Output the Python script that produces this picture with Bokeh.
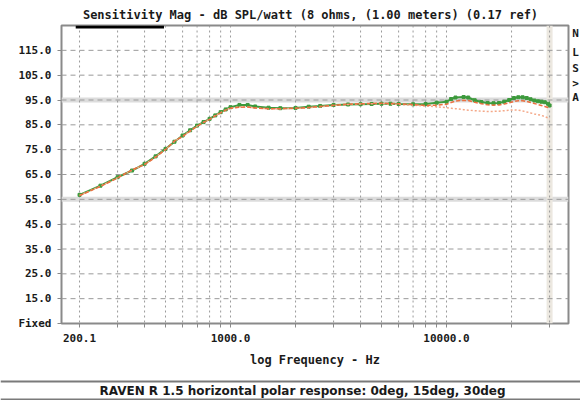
from bokeh.plotting import figure
from bokeh.models import FixedTicker, Span, Label, BoxAnnotation, Range1d
from bokeh.layouts import column, row
from bokeh.embed import file_html
from bokeh.resources import INLINE

# ---------------- data ----------------
freq = [200, 250, 300, 350, 400, 450, 500, 550, 600, 650,
        700, 750, 800, 850, 900, 950, 1000, 1100, 1200, 1300,
        1500, 1700, 2000, 2300, 2600, 3000, 3500, 4000, 4500, 5000,
        5500, 6000, 7000, 8000, 9000, 10000, 10500, 11000, 12000, 12600,
        13500, 14500, 15500, 16500, 17500, 18500, 19500, 20500, 21500, 22500,
        23500, 24500, 25500, 26500, 27500, 28500, 29500, 30000]

spl_0deg = [56.8, 60.5, 63.9, 66.6, 69.3, 72.3, 75.3, 78.2, 80.7, 82.8,
            84.7, 86.1, 87.4, 88.8, 90.1, 91.2, 92.1, 93.0, 93.0, 92.4,
            91.9, 91.7, 91.8, 92.3, 92.6, 93.0, 93.2, 93.3, 93.4, 93.5,
            93.5, 93.4, 93.3, 93.4, 93.9, 94.3, 95.4, 96.0, 96.2, 96.0,
            94.9, 94.2, 93.8, 93.7, 93.8, 94.3, 95.0, 95.8, 96.1, 96.1,
            95.8, 95.3, 94.8, 94.5, 94.3, 94.1, 93.5, 92.8]

spl_15deg = [56.5, 60.2, 63.6, 66.9, 69.0, 72.0, 75.0, 78.5, 80.3, 82.5,
             84.4, 86.0, 87.2, 88.6, 89.8, 90.9, 91.7, 92.1, 92.2, 91.8,
             91.5, 91.5, 91.7, 92.0, 92.4, 92.9, 93.3, 93.5, 93.6, 93.7,
             93.6, 93.5, 93.2, 92.8, 92.9, 93.3, 94.0, 94.6, 94.9, 94.8,
             94.1, 93.5, 93.1, 92.9, 93.0, 93.4, 93.9, 94.4, 94.7, 94.7,
             94.4, 94.0, 93.6, 93.2, 92.8, 92.4, 92.0, 91.5]

spl_30deg = [56.6, 60.3, 63.7, 66.7, 69.1, 72.1, 75.1, 78.3, 80.4, 82.6,
             84.5, 86.0, 87.3, 88.7, 89.9, 91.0, 91.8, 92.2, 92.2, 91.8,
             91.5, 91.5, 91.6, 91.9, 92.3, 92.8, 93.2, 93.4, 93.5, 93.5,
             93.4, 93.2, 92.9, 92.6, 92.3, 91.9, 91.7, 91.5, 91.1, 90.9,
             90.7, 90.5, 90.4, 90.4, 90.5, 90.7, 90.9, 91.0, 90.9, 90.6,
             90.2, 89.8, 89.4, 89.1, 88.8, 88.3, 87.8, 87.3]

y_ticks = [5, 15, 25, 35, 45, 55, 65, 75, 85, 95, 105, 115]
y_tick_labels = ["Fixed", "15.0", "25.0", "35.0", "45.0", "55.0", "65.0",
                 "75.0", "85.0", "95.0", "105.0", "115.0"]
x_grid = [200, 300, 400, 500, 600, 700, 800, 900, 1000,
          2000, 3000, 4000, 5000, 6000, 7000, 8000, 9000, 10000,
          20000, 30000]
x_tick_labels = {200: "200.1", 1000: "1000.0", 10000: "10000.0"}
band_levels = [95, 55]
side_letters = ["N", "L", "S", ">", "A"]
side_letter_y = [121.8, 114.1, 107.7, 101.6, 96.0]

title_text = "Sensitivity Mag - dB SPL/watt (8 ohms, (1.00 meters) (0.17 ref)"
x_label = "log Frequency - Hz"
caption_text = "RAVEN R 1.5 horizontal polar response: 0deg, 15deg, 30deg"

MONO = "DejaVu Sans Mono"
TXT = "#1a1a1a"
FRAME = "#8a8a8a"


def strip(width, height, **kw):
    f = figure(width=width, height=height, output_backend="svg",
               toolbar_location=None, x_axis_location=None,
               y_axis_location=None, **kw)
    f.grid.grid_line_color = None
    f.outline_line_color = None
    f.background_fill_color = "white"
    f.border_fill_color = "white"
    return f


# ---------------- title strip ----------------
top = strip(580, 23, x_range=Range1d(0, 580), y_range=Range1d(0, 23), min_border=0)
top.add_layout(Label(x=310, y=9, text=title_text, text_align="center",
                     text_baseline="middle", text_font=MONO, text_font_style="bold",
                     text_font_size="12px", text_color=TXT))

# ---------------- main figure ----------------
yr = Range1d(5, 125)
p = figure(width=570, height=353, x_axis_type="log",
           x_range=Range1d(165, 36700), y_range=yr,
           output_backend="svg", toolbar_location=None,
           min_border_left=61, min_border_right=2,
           min_border_top=2, min_border_bottom=53)
p.background_fill_color = "white"
p.border_fill_color = "white"
p.outline_line_color = FRAME
p.outline_line_width = 2
p.xgrid.grid_line_color = None
p.ygrid.grid_line_color = None

for lv in band_levels:
    p.add_layout(Span(location=lv, dimension="width", line_color="#dcdcdc",
                      line_width=5, level="underlay"))
p.add_layout(Span(location=x_grid[-1], dimension="height", line_color="#ece8e0",
                  line_width=6, level="underlay"))
for t in y_ticks[1:]:
    p.add_layout(Span(location=t, dimension="width", line_color="#9a9a9a",
                      line_width=1, line_dash="5 4", level="underlay"))
for t in x_grid:
    p.add_layout(Span(location=t, dimension="height", line_color="#9a9a9a",
                      line_width=1, line_dash="2 3", level="underlay"))

p.line(freq, spl_0deg, line_color="#3d9a3d", line_width=2)
p.scatter(freq, spl_0deg, marker="square", size=3, color="#3d9a3d")
p.line(freq, spl_30deg, line_color="#f4a888", line_width=1.5, line_dash="2 2")
p.line(freq, spl_15deg, line_color="#ec7040", line_width=1.5, line_dash="4 2")

p.add_layout(BoxAnnotation(left=192, right=492, top=125, bottom=123.8,
                           fill_color="black", fill_alpha=1, line_color=None))

p.yaxis.ticker = FixedTicker(ticks=y_ticks)
p.yaxis.major_label_overrides = dict(zip(y_ticks, y_tick_labels))
p.xaxis.ticker = FixedTicker(ticks=x_grid)
p.xaxis.major_label_overrides = {t: x_tick_labels.get(t, "") for t in x_grid}
for ax in (p.xaxis[0], p.yaxis[0]):
    ax.axis_line_color = None
    ax.major_tick_line_color = FRAME
    ax.major_tick_out = 4
    ax.major_tick_in = 0
    ax.minor_tick_line_color = None
    ax.major_label_text_font = MONO
    ax.major_label_text_font_style = "bold"
    ax.major_label_text_font_size = "11px"
    ax.major_label_text_color = TXT
    ax.major_label_standoff = 6
p.xaxis.axis_label = x_label
p.xaxis.axis_label_text_font = MONO
p.xaxis.axis_label_text_font_style = "bold"
p.xaxis.axis_label_text_font_size = "12px"
p.xaxis.axis_label_text_color = TXT
p.xaxis.axis_label_standoff = 8

# ---------------- side letters ----------------
side = strip(10, 353, x_range=Range1d(0, 1), y_range=yr,
             min_border_left=0, min_border_right=0,
             min_border_top=2, min_border_bottom=53)
for ch, yy in zip(side_letters, side_letter_y):
    side.add_layout(Label(x=0.5, y=yy, text=ch, text_align="center",
                          text_baseline="middle", text_font=MONO,
                          text_font_style="bold", text_font_size="11px",
                          text_color=TXT))

# ---------------- caption strip ----------------
cap = strip(580, 24, x_range=Range1d(0, 580), y_range=Range1d(0, 24), min_border=0)
for yy in (19, 1):
    cap.add_layout(Span(location=yy, dimension="width", line_color="#7a7a7a",
                        line_width=2))
cap.add_layout(Label(x=302, y=10, text=caption_text, text_align="center",
                     text_baseline="middle", text_font="DejaVu Sans",
                     text_font_style="bold", text_font_size="12px",
                     text_color=TXT))

layout = column(top, row(p, side), cap)
open("out.html", "w").write(file_html(layout, INLINE))
